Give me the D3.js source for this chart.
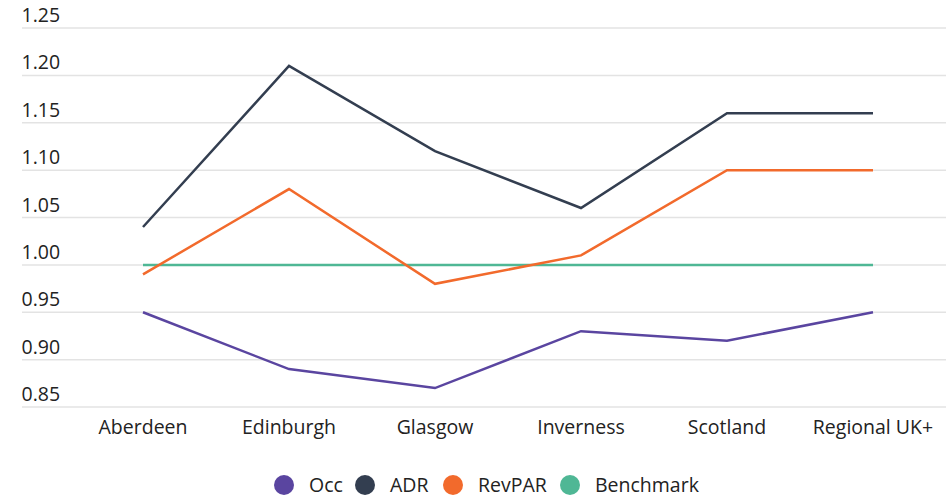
<!DOCTYPE html>
<html><head><meta charset="utf-8">
<script src="https://cdn.jsdelivr.net/npm/d3@7"></script>
<style>body{margin:0;background:#fff}svg{display:block;font-family:"Open Sans",sans-serif}</style>
</head><body><svg id="c" width="951" height="497"></svg>
<script>
const categories = ["Aberdeen","Edinburgh","Glasgow","Inverness","Scotland","Regional UK+"];
const occ = [0.95,0.89,0.87,0.93,0.92,0.95];
const adr = [1.04,1.21,1.12,1.06,1.16,1.16];
const revpar = [0.99,1.08,0.98,1.01,1.10,1.10];
const benchmark = [1,1,1,1,1,1];
const yTicks = [0.85,0.90,0.95,1.00,1.05,1.10,1.15,1.20,1.25];
const seriesNames = ["Occ","ADR","RevPAR","Benchmark"];
const colors = ["#5a45a0","#333e50","#f26a2c","#4fb795"];

const svg = d3.select("#c");
const x = d3.scaleBand().domain(categories).range([70,946]);
const y = d3.scaleLinear().domain([0.85,1.25]).range([407,28]);

const grid = svg.append("g");
grid.selectAll("line").data(yTicks).join("line")
  .attr("x1",22).attr("x2",946)
  .attr("y1",d=>y(d)).attr("y2",d=>y(d))
  .attr("stroke","#e3e3e3").attr("stroke-width",1.5);
grid.selectAll("text").data(yTicks).join("text")
  .attr("x",21.5).attr("y",d=>y(d)-6)
  .attr("font-size",19.5).attr("fill","#222")
  .text(d=>d.toFixed(2));

svg.append("g").selectAll("text").data(categories).join("text")
  .attr("x",d=>x(d)+x.bandwidth()/2).attr("y",434)
  .attr("text-anchor","middle").attr("font-size",19.5).attr("fill","#222")
  .text(d=>d);

const all = [occ,adr,revpar,benchmark];
const line = d3.line().x((d,i)=>x(categories[i])+x.bandwidth()/2).y(d=>y(d));
const drawOrder = [3,0,2,1];
drawOrder.forEach(k=>{
  svg.append("path").attr("d",line(all[k])).attr("fill","none")
    .attr("stroke",colors[k]).attr("stroke-width",2.5);
});

const legX = [284,365,453,570];
const lg = svg.append("g");
seriesNames.forEach((n,i)=>{
  lg.append("circle").attr("cx",legX[i]).attr("cy",485).attr("r",10).attr("fill",colors[i]);
  lg.append("text").attr("x",legX[i]+25).attr("y",492).attr("font-size",19.5).attr("fill","#222").text(n);
});
</script></body></html>
